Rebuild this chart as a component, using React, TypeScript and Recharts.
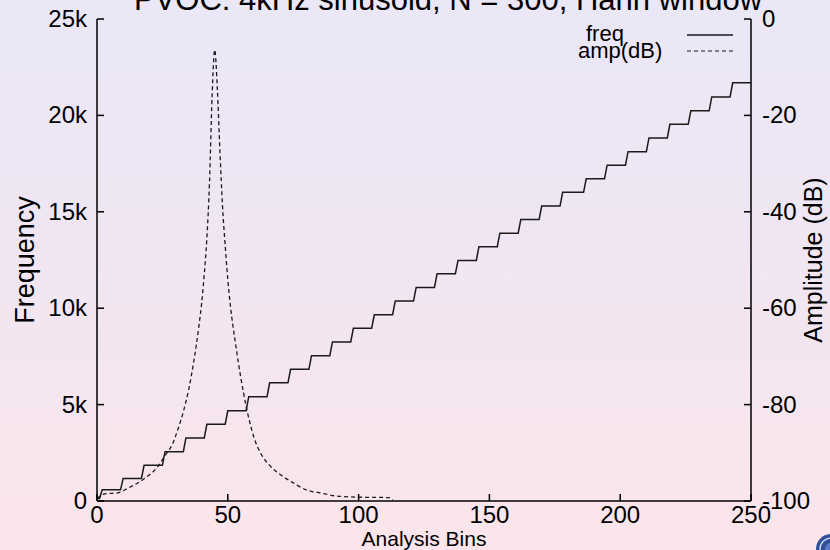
import React from 'react';
import { ComposedChart, Line, XAxis, YAxis, Label } from 'recharts';

const FONT = '"Liberation Sans", Arial, Helvetica, sans-serif';

const binTicks = [0, 50, 100, 150, 200, 250];
const freqTicks = [0, 5000, 10000, 15000, 20000, 25000];
const ampTicks = [-100, -80, -60, -40, -20, 0];

// Frequency estimate per analysis bin: first bin of each plateau and its value (Hz)
const stepStartBins = [
  0, 2, 10, 18, 26, 34, 42, 50, 58, 66, 74, 82, 90, 98, 106, 114, 122, 130, 138, 146,
  154, 162, 170, 178, 187, 195, 203, 211, 219, 227, 235, 243,
];
const stepLevels = [
  130, 590, 1170, 1850, 2560, 3270, 3980, 4680, 5410, 6130, 6830, 7540, 8250, 8960, 9660,
  10370, 11080, 11790, 12480, 13190, 13890, 14600, 15300, 16010, 16710, 17420, 18120,
  18830, 19540, 20240, 20960, 21690,
];
const lastBin = 250;

// Amplitude (dB) of the analysed sinusoid per bin
const ampBins = [
  0, 3, 8, 12, 18, 23, 26, 29, 31, 33, 35, 37, 39, 40, 41, 42, 43, 44, 45, 46, 47, 48, 49,
  50, 51, 53, 55, 57, 60, 63, 66, 70, 74, 80, 86, 92, 100, 112, 113,
];
const ampDb = [
  -99.5, -98.5, -98.3, -97.3, -95.4, -93.0, -90.6, -88.0, -85.0, -81.5, -77.0, -71.0, -63.5,
  -59.0, -53.0, -45.5, -34.0, -16.0, -6.4, -14.5, -27.5, -39.0, -47.0, -54.0, -59.5, -67.5,
  -74.5, -80.3, -86.8, -90.5, -92.6, -94.5, -95.9, -97.7, -98.4, -99.0, -99.2, -99.3, -99.8,
];

// Plateaus become corner points; the rise between plateaus spans one bin.
const freqData = stepStartBins.flatMap((b, i) => {
  const end = i + 1 < stepStartBins.length ? stepStartBins[i + 1] - 1 : lastBin;
  return [
    { bin: b, freq: stepLevels[i] },
    { bin: end, freq: stepLevels[i] },
  ];
});
const ampData = ampBins.map((b, i) => ({ bin: b, amp: ampDb[i] }));

const TICK_LEN = 7;
const INK = '#000';
const TICK_FONT = 24;

const BottomTick = (props: any) => {
  const { x, y, payload } = props;
  return (
    <g>
      <line x1={x} y1={y} x2={x} y2={y - TICK_LEN} stroke={INK} strokeWidth={1.5} />
      <text x={x} y={y + 22} textAnchor="middle" fontSize={TICK_FONT} fontFamily={FONT} fill={INK}>
        {payload.value}
      </text>
    </g>
  );
};

const TopTick = (props: any) => {
  const { x, y } = props;
  return <line x1={x} y1={y} x2={x} y2={y + TICK_LEN} stroke={INK} strokeWidth={1.5} />;
};

const fmtK = (v: number) => (v === 0 ? '0' : `${v / 1000}k`);

const LeftTick = (props: any) => {
  const { x, y, payload } = props;
  return (
    <g>
      <line x1={x} y1={y} x2={x + TICK_LEN} y2={y} stroke={INK} strokeWidth={1.5} />
      <text x={x - 10} y={y + 8} textAnchor="end" fontSize={TICK_FONT} fontFamily={FONT} fill={INK}>
        {fmtK(payload.value)}
      </text>
    </g>
  );
};

const RightTick = (props: any) => {
  const { x, y, payload } = props;
  return (
    <g>
      <line x1={x} y1={y} x2={x - TICK_LEN} y2={y} stroke={INK} strokeWidth={1.5} />
      <text x={x + 11} y={y + 8} textAnchor="start" fontSize={TICK_FONT} fontFamily={FONT} fill={INK}>
        {payload.value}
      </text>
    </g>
  );
};

const axisLine = { stroke: INK, strokeWidth: 1.5 };

export default function App() {
  return (
    <div
      style={{
        position: 'absolute',
        left: 0,
        top: 0,
        width: 830,
        height: 550,
        overflow: 'hidden',
        background: 'linear-gradient(to bottom, #EAE7F7 0%, #F1E6F2 50%, #FBE5EA 100%)',
        fontFamily: FONT,
      }}
    >
      <ComposedChart width={830} height={550} margin={{ top: 19, right: 0, bottom: 0, left: 0 }}>
        <XAxis
          dataKey="bin"
          type="number"
          domain={[0, 250]}
          ticks={binTicks}
          interval={0}
          height={49}
          tickSize={0}
          tickMargin={0}
          tickLine={false}
          axisLine={axisLine}
          tick={<BottomTick />}
        >
          <Label
            value="Analysis Bins"
            position="insideBottom"
            offset={4}
            style={{ fontSize: 21, fontFamily: FONT, fill: INK }}
          />
        </XAxis>
        <XAxis
          xAxisId="top"
          orientation="top"
          dataKey="bin"
          type="number"
          domain={[0, 250]}
          ticks={binTicks}
          interval={0}
          height={0}
          tickSize={0}
          tickMargin={0}
          tickLine={false}
          axisLine={axisLine}
          tick={<TopTick />}
        />
        <YAxis
          yAxisId="left"
          type="number"
          domain={[0, 25000]}
          ticks={freqTicks}
          interval={0}
          width={97}
          tickSize={0}
          tickMargin={0}
          tickLine={false}
          axisLine={axisLine}
          tick={<LeftTick />}
        >
          <Label
            value="Frequency"
            angle={-90}
            position="insideLeft"
            offset={24}
            style={{ fontSize: 27, fontFamily: FONT, fill: INK, textAnchor: 'middle' }}
          />
        </YAxis>
        <YAxis
          yAxisId="right"
          orientation="right"
          type="number"
          domain={[-100, 0]}
          ticks={ampTicks}
          interval={0}
          width={79}
          tickSize={0}
          tickMargin={0}
          tickLine={false}
          axisLine={axisLine}
          tick={<RightTick />}
        >
          <Label
            value="Amplitude (dB)"
            angle={-90}
            position="insideRight"
            offset={17}
            style={{ fontSize: 25, fontFamily: FONT, fill: INK, textAnchor: 'middle' }}
          />
        </YAxis>
        <Line
          yAxisId="left"
          data={freqData}
          dataKey="freq"
          name="freq"
          type="linear"
          stroke="#1a1a1a"
          strokeWidth={1.5}
          dot={false}
          isAnimationActive={false}
        />
        <Line
          yAxisId="right"
          data={ampData}
          dataKey="amp"
          name="amp(dB)"
          type="monotone"
          stroke="#1a1a1a"
          strokeWidth={1.3}
          strokeDasharray="4 3"
          dot={false}
          isAnimationActive={false}
        />
      </ComposedChart>

      <svg
        width={830}
        height={550}
        style={{ position: 'absolute', left: 0, top: 0, pointerEvents: 'none' }}
      >
        <text x={448} y={10} textAnchor="middle" fontSize={31} fontFamily={FONT} fill={INK}>
          PVOC: 4kHz sinusoid, N = 300, Hann window
        </text>
        <text x={586} y={41} fontSize={22} fontFamily={FONT} fill={INK}>
          freq
        </text>
        <line x1={687} y1={35} x2={733} y2={35} stroke="#1a1a1a" strokeWidth={1.4} />
        <text x={578} y={58} fontSize={22} fontFamily={FONT} fill={INK}>
          amp(dB)
        </text>
        <line
          x1={687}
          y1={51}
          x2={733}
          y2={51}
          stroke="#1a1a1a"
          strokeWidth={1.2}
          strokeDasharray="4 3"
        />
        <g>
          <circle cx={831} cy={549} r={15} fill="#2f4f9f" />
          <circle cx={831} cy={549} r={11} fill="none" stroke="#dfe6f5" strokeWidth={1.2} />
          <circle cx={831} cy={549} r={6} fill="#5b7bc4" />
        </g>
      </svg>
    </div>
  );
}
